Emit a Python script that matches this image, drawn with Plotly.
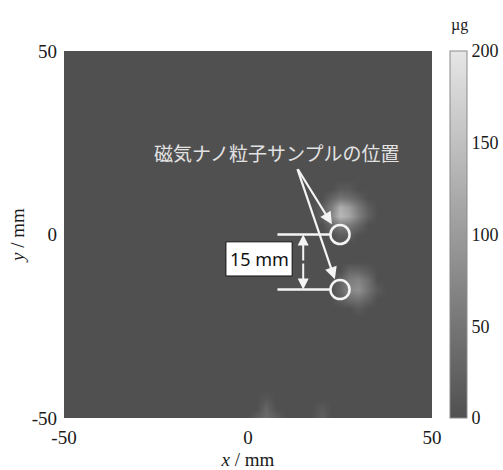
import numpy as np
import plotly.graph_objects as go

# Measurement grid (mm)
grid_x = np.arange(-50, 50.01, 2.5)
grid_y = np.arange(-50, 50.01, 2.5)

# Non-zero cells of the measured magnetic nanoparticle amount (µg)
cell_x = [25, 27.5, 25, 27.5,
          22.5, 22.5, 30, 30, 25, 27.5, 25, 27.5,
          20, 32.5, 30, 22.5, 30, 22.5, 25, 27.5, 32.5, 25, 27.5, 20,
          30, 27.5, 30, 27.5,
          32.5, 32.5, 30, 27.5, 30, 27.5, 25, 25, 32.5, 25, 32.5, 35, 30,
          5, 5, 7.5, 2.5, 5, 20, 20]
cell_y = [5, 5, 7.5, 7.5,
          5, 7.5, 5, 7.5, 2.5, 2.5, 10, 10,
          5, 5, 2.5, 2.5, 10, 10, 0, 0, 7.5, 12.5, 12.5, 7.5,
          -15, -15, -12.5, -12.5,
          -15, -12.5, -17.5, -17.5, -10, -10, -15, -12.5, -17.5, -17.5, -10, -15, -20,
          -47.5, -50, -50, -50, -45, -50, -47.5]
cell_val = [140, 115, 125, 100,
            70, 60, 65, 55, 60, 55, 50, 40,
            22, 22, 30, 35, 22, 28, 20, 20, 18, 14, 12, 18,
            85, 70, 70, 60,
            45, 40, 45, 40, 30, 30, 30, 25, 25, 20, 15, 15, 15,
            30, 35, 22, 22, 12, 20, 14]

# Sample positions and spacing annotation
sample_x = [25, 25]
sample_y = [0, -15]
spacing_label = "15 mm"
title_label = "磁気ナノ粒子サンプルの位置"

z = np.zeros((len(grid_y), len(grid_x)))
for cx, cy, v in zip(cell_x, cell_y, cell_val):
    i = int(round((cy + 50) / 2.5))
    j = int(round((cx + 50) / 2.5))
    z[i, j] = v

serif = "Liberation Serif"
ink = "#1a1a1a"

fig = go.Figure()
fig.add_trace(go.Heatmap(
    x=grid_x, y=grid_y, z=z,
    zmin=0, zmax=200, zsmooth="best",
    colorscale=[[0, "#505050"], [1, "#e6e6e6"]],
    showscale=True,
    colorbar=dict(
        x=450 / 503, xanchor="left", xref="container",
        y=0, yanchor="bottom", len=1, lenmode="fraction",
        xpad=0, ypad=0,
        thickness=17, outlinewidth=1, outlinecolor="#8a8a8a",
        tickvals=[0, 50, 100, 150, 200], ticks="",
        tickfont=dict(family=serif, size=18, color=ink),
    ),
    hoverinfo="skip",
))

white = "#f4f4f4"
shapes = []
# reference lines from each sample to the spacing arrow
for sy in sample_y:
    shapes.append(dict(type="line", xref="x", yref="y", x0=8, x1=22.5, y0=sy, y1=sy,
                       line=dict(color=white, width=2.5)))
    shapes.append(dict(type="circle", xref="x", yref="y",
                       x0=sample_x[0] - 2.6, x1=sample_x[0] + 2.6, y0=sy - 2.6, y1=sy + 2.6,
                       line=dict(color=white, width=2.5)))
# label box
shapes.append(dict(type="rect", xref="x", yref="y", x0=-6, x1=12, y0=-11.3, y1=-2,
                   fillcolor="white", line=dict(color="#111", width=1)))

annotations = []
# double-headed vertical arrow for the spacing
for y_tip, y_tail in [(sample_y[0], sample_y[1]), (sample_y[1], sample_y[0])]:
    annotations.append(dict(x=15, y=y_tip, ax=15, ay=(y_tip + y_tail) / 2,
                            xref="x", yref="y", axref="x", ayref="y",
                            showarrow=True, arrowhead=2, arrowsize=1.1, arrowwidth=2,
                            arrowcolor=white, text=""))
annotations.append(dict(x=3, y=-6.65, xref="x", yref="y", text=spacing_label, showarrow=False,
                        font=dict(family="Noto Sans", size=18, color="#111")))
# pointer arrows from the caption to the samples
for tx, ty in [(22.8, 2.8), (23.6, -12.2)]:
    annotations.append(dict(x=tx, y=ty, ax=13.3, ay=18.2,
                            xref="x", yref="y", axref="x", ayref="y",
                            showarrow=True, arrowhead=2, arrowsize=1.1, arrowwidth=2.2,
                            arrowcolor=white, text=""))
annotations.append(dict(x=7.8, y=22.3, xref="x", yref="y", text=title_label, showarrow=False,
                        font=dict(family="Noto Sans CJK JP", size=19, color="#e2e2e2")))
# colorbar unit
annotations.append(dict(x=1.103, y=1.101, xref="paper", yref="paper",
                        text="µg", showarrow=False,
                        font=dict(family=serif, size=16, color=ink)))

fig.update_layout(
    width=503, height=470,
    margin=dict(l=64, r=71, t=51, b=52),
    paper_bgcolor="white", plot_bgcolor="#505050",
    shapes=shapes, annotations=annotations,
    xaxis=dict(range=[-50, 50], tickvals=[-50, 0, 50], ticktext=["-50", "0", "50"],
               showgrid=False, zeroline=False, ticks="", ticklabelstandoff=6,
               automargin=False,
               tickfont=dict(family=serif, size=19, color=ink),
               title=dict(text="<i>x</i> / mm", font=dict(family=serif, size=19, color=ink),
                          standoff=6)),
    yaxis=dict(range=[-50, 50], tickvals=[-50, 0, 50], ticktext=["-50", "0", "50"],
               showgrid=False, zeroline=False, ticks="", ticklabelstandoff=6,
               automargin=False,
               tickfont=dict(family=serif, size=19, color=ink),
               title=dict(text="<i>y</i> / mm", font=dict(family=serif, size=19, color=ink),
                          standoff=2)),
)

fig.write_html("out.html")
